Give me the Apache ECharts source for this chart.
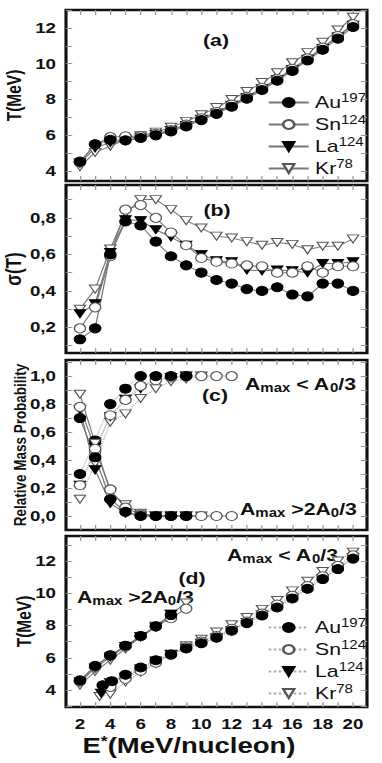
<!DOCTYPE html>
<html>
<head>
<meta charset="utf-8">
<script src="https://cdn.jsdelivr.net/npm/echarts@6/dist/echarts.min.js"></script>
<style>
  html, body { margin: 0; padding: 0; background: #fff; overflow: hidden; }
  /* the reference figure is stretched horizontally, so the chart is drawn narrow and scaled */
  #chart { width: 305.6px; height: 763px; transform: scaleX(1.25); transform-origin: 0 0; }
</style>
</head>
<body>
<div id="chart"></div>
<script>
// ---- data ----
const E = [2, 3, 4, 5, 6, 7, 8, 9, 10, 11, 12, 13, 14, 15, 16, 17, 18, 19, 20];

// (a) temperature vs excitation energy
const auT = [4.53, 5.5, 5.75, 5.72, 5.85, 6.0, 6.22, 6.5, 6.85, 7.2, 7.6, 8.05, 8.53, 9.05, 9.6, 10.18, 10.78, 11.4, 12.05];
const snT = [4.5, 5.5, 5.9, 5.95, 5.95, 6.08, 6.3, 6.6, 6.95, 7.3, 7.72, 8.15, 8.65, 9.15, 9.72, 10.3, 10.9, 11.55, 12.2];
const laT = [4.45, 5.3, 5.6, 5.7, 5.85, 6.05, 6.27, 6.55, 6.9, 7.25, 7.68, 8.1, 8.6, 9.1, 9.68, 10.25, 10.85, 11.5, 12.15];
const krT = [4.25, 5.05, 5.4, 5.75, 5.98, 6.18, 6.45, 6.78, 7.15, 7.55, 8.0, 8.45, 8.95, 9.5, 10.05, 10.62, 11.2, 11.88, 12.6];

// (b) width of the temperature distribution
const auSig = [0.135, 0.195, 0.60, 0.78, 0.758, 0.67, 0.59, 0.54, 0.50, 0.46, 0.44, 0.41, 0.40, 0.42, 0.38, 0.37, 0.44, 0.44, 0.40];
const snSig = [0.195, 0.31, 0.59, 0.845, 0.87, 0.80, 0.72, 0.65, 0.58, 0.56, 0.55, 0.54, 0.535, 0.50, 0.50, 0.535, 0.50, 0.535, 0.535];
const laSig = [0.275, 0.33, 0.61, 0.79, 0.785, 0.735, 0.695, 0.65, 0.60, 0.565, 0.56, 0.515, 0.51, 0.515, 0.51, 0.50, 0.55, 0.55, 0.56];
const krSig = [0.30, 0.41, 0.63, 0.825, 0.90, 0.90, 0.845, 0.785, 0.745, 0.70, 0.69, 0.67, 0.65, 0.665, 0.655, 0.625, 0.645, 0.645, 0.685];

// (c) relative mass probability, Amax < A0/3 (up) and Amax > 2A0/3 (lo)
const auUp = [0.30, 0.54, 0.80, 0.91, 1, 1, 1, 1];
const auLo = [0.70, 0.42, 0.12, 0.03, 0, 0, 0, 0];
const snUp = [0.22, 0.46, 0.72, 0.83, 0.93, 0.97, 0.99, 1, 1, 1, 1];
const snLo = [0.78, 0.48, 0.19, 0.06, 0.01, 0, 0, 0, 0, 0, 0];
const laUp = [0.22, 0.49, 0.71, 0.835, 0.91, 0.98, 0.99, 1];
const laLo = [0.76, 0.33, 0.09, 0.02, 0, 0, 0, 0];
const krUp = [0.12, 0.38, 0.67, 0.73, 0.84, 0.91, 0.96, 0.98, 1];
const krLo = [0.87, 0.52, 0.17, 0.08, 0.02, 0, 0, 0, 0];

// (d) temperature for the two event classes
const auDlE = [2, 3, 4, 5, 6, 7, 8];
const auDl = [4.6, 5.5, 6.15, 6.75, 7.35, 7.95, 8.65];
const snDlE = [2, 3, 4, 5, 6, 7, 8, 9];
const snDl = [4.55, 5.45, 6.15, 6.7, 7.35, 7.95, 8.45, 9.05];
const laDlE = [2, 3, 4, 5, 6, 7, 8];
const laDl = [4.5, 5.35, 6.05, 6.7, 7.3, 7.9, 8.7];
const krDlE = [2, 3, 4, 5, 6, 7, 8, 9];
const krDl = [4.3, 5.15, 5.85, 6.55, 7.3, 7.95, 8.7, 9.4];

const auDrE = [3.5, 4.1, 5, 6, 7, 8, 9, 10, 11, 12, 13, 14, 15, 16, 17, 18, 19, 20];
const auDr = [4.3, 4.55, 4.95, 5.4, 5.85, 6.2, 6.58, 6.9, 7.25, 7.68, 8.15, 8.62, 9.12, 9.68, 10.28, 10.88, 11.5, 12.15];
const snDrE = [4, 5, 6, 7, 8, 9, 10, 11, 12, 13, 14, 15, 16, 17, 18, 19, 20];
const snDr = [4.2, 4.7, 5.2, 5.7, 6.2, 6.65, 7.0, 7.35, 7.8, 8.25, 8.75, 9.3, 9.85, 10.45, 11.05, 11.7, 12.35];
const laDrE = [3.4, 4, 5, 6, 7, 8, 9, 10, 11, 12, 13, 14, 15, 16, 17, 18, 19, 20];
const laDr = [3.8, 4.45, 4.8, 5.3, 5.8, 6.22, 6.6, 6.9, 7.25, 7.7, 8.18, 8.65, 9.15, 9.7, 10.3, 10.92, 11.55, 12.2];
const krDrE = [3.3, 4, 5, 6, 7, 8, 9, 10, 11, 12, 13, 14, 15, 16, 17, 18, 19, 20];
const krDr = [3.6, 3.75, 4.5, 5.1, 5.65, 6.2, 6.75, 7.15, 7.6, 8.05, 8.5, 9.0, 9.55, 10.15, 10.75, 11.35, 12.0, 12.55];

// ticks and labels
const eTicks = [2, 3, 4, 5, 6, 7, 8, 9, 10, 11, 12, 13, 14, 15, 16, 17, 18, 19, 20];
const eLabels = [2, 4, 6, 8, 10, 12, 14, 16, 18, 20];
const tTicksA = [4, 5, 6, 7, 8, 9, 10, 11, 12, 13];
const tTicksD = [3, 4, 5, 6, 7, 8, 9, 10, 11, 12, 13];
const tLabels = [4, 6, 8, 10, 12];
const sigTicks = [0.1, 0.2, 0.3, 0.4, 0.5, 0.6, 0.7, 0.8, 0.9];
const sigLabels = [0.2, 0.4, 0.6, 0.8];
const probTicks = [0, 0.1, 0.2, 0.3, 0.4, 0.5, 0.6, 0.7, 0.8, 0.9, 1.0, 1.1];
const probLabels = [0, 0.2, 0.4, 0.6, 0.8, 1.0];

const isotopes = { Au197: ['Au', '197'], Sn124: ['Sn', '124'], La124: ['La', '124'], Kr78: ['Kr', '78'] };

// ---- layout (chart is drawn at 1/SX width) ----
const SX = 1.25;
const FONT = 'Liberation Sans, Arial, sans-serif';
const gridLeft = 66 / SX, gridW = (367 - 66) / SX;
const panels = [[10, 181], [185, 353], [360, 530], [536, 707]];

const TRI = 'path://M0,0L10,0L5,9Z';
const marks = {
  Au: { symbol: 'circle', size: 9, fill: '#000', stroke: '#000' },
  Sn: { symbol: 'circle', size: 9, fill: '#fff', stroke: '#555' },
  La: { symbol: TRI, size: [9, 8], fill: '#000', stroke: '#000' },
  Kr: { symbol: TRI, size: [9, 8], fill: '#fff', stroke: '#555' }
};

const pairs = (xs, ys) => ys.map((v, i) => [xs[i], v]);

function line(name, key, panel, data, dotted) {
  const m = marks[key];
  return {
    name, type: 'line', xAxisIndex: panel * 2, yAxisIndex: panel * 2, data,
    symbol: m.symbol, symbolSize: m.size,
    itemStyle: { color: m.fill, borderColor: m.stroke, borderWidth: 1 },
    lineStyle: { color: dotted ? '#aaa' : '#777', width: 1, type: dotted ? 'dotted' : 'solid' },
    emphasis: { disabled: true }
  };
}

const comma = v => v.toFixed(1).replace('.', ',');
const tickStyle = { inside: true, length: 5, lineStyle: { color: '#999', width: 1 } };
const labelStyle = { fontSize: 15, fontWeight: 'bold', color: '#111', fontFamily: FONT };
const noLine = { show: false, onZero: false };

const xAxis = [], yAxis = [];
panels.forEach((p, i) => {
  const base = { type: 'value', gridIndex: i, min: 1.08, max: 20.92, splitLine: { show: false }, axisLine: noLine,
    axisTick: { ...tickStyle, customValues: eTicks } };
  xAxis.push({ ...base, position: 'bottom',
    axisLabel: i === 3 ? { ...labelStyle, lineHeight: 15, customValues: eLabels, margin: 10 } : { show: false },
    name: i === 3 ? '{b|E}{s|*}{b|(MeV/nucleon)}' : '', nameLocation: 'middle', nameGap: 27, nameMoveOverlap: false,
    nameTextStyle: { padding: [0, 44, 0, 0], rich: {
      b: { fontSize: 22, lineHeight: 22, fontWeight: 'bold', color: '#111', fontFamily: FONT },
      s: { fontSize: 14, lineHeight: 14, fontWeight: 'bold', padding: [0, 0, 8, 0], color: '#111', fontFamily: FONT } } } });
  xAxis.push({ ...base, position: 'top', axisLabel: { show: false } });
});

function addY(i, min, max, ticks, labels, fmt, name, nameSize, nameGap) {
  const base = { type: 'value', gridIndex: i, min, max, splitLine: { show: false }, axisLine: noLine,
    axisTick: { ...tickStyle, customValues: ticks } };
  yAxis.push({ ...base, position: 'left', name, nameLocation: 'middle', nameGap, nameMoveOverlap: false,
    nameTextStyle: { fontSize: nameSize, fontWeight: 'bold', color: '#111', fontFamily: FONT },
    axisLabel: { ...labelStyle, customValues: labels, formatter: fmt, margin: 8 } });
  yAxis.push({ ...base, position: 'right', axisLabel: { show: false } });
}
addY(0, 3.45, 13.0, tTicksA, tLabels, v => String(v), 'T(MeV)', 15.5, 33);
addY(1, 0.06, 0.98, sigTicks, sigLabels, comma, 'σ(T)', 17, 33);
addY(2, -0.1, 1.115, probTicks, probLabels, comma, 'Relative Mass Probability', 13.5, 30);
addY(3, 2.95, 13.55, tTicksD, tLabels, v => String(v), 'T(MeV)', 15.5, 25);

const series = [
  line('Kr78', 'Kr', 0, pairs(E, krT)),
  line('La124', 'La', 0, pairs(E, laT)),
  line('Sn124', 'Sn', 0, pairs(E, snT)),
  line('Au197', 'Au', 0, pairs(E, auT)),

  line('Kr78 b', 'Kr', 1, pairs(E, krSig)),
  line('La124 b', 'La', 1, pairs(E, laSig)),
  line('Sn124 b', 'Sn', 1, pairs(E, snSig)),
  line('Au197 b', 'Au', 1, pairs(E, auSig)),

  line('Kr78 up', 'Kr', 2, pairs(E, krUp), true),
  line('La124 up', 'La', 2, pairs(E, laUp), true),
  line('Sn124 up', 'Sn', 2, pairs(E, snUp), true),
  line('Au197 up', 'Au', 2, pairs(E, auUp), true),
  line('Kr78 lo', 'Kr', 2, pairs(E, krLo)),
  line('La124 lo', 'La', 2, pairs(E, laLo)),
  line('Sn124 lo', 'Sn', 2, pairs(E, snLo)),
  line('Au197 lo', 'Au', 2, pairs(E, auLo)),

  line('Kr78 dl', 'Kr', 3, pairs(krDlE, krDl)),
  line('La124 dl', 'La', 3, pairs(laDlE, laDl)),
  line('Sn124 dl', 'Sn', 3, pairs(snDlE, snDl)),
  line('Au197 dl', 'Au', 3, pairs(auDlE, auDl)),
  line('Kr78 dr', 'Kr', 3, pairs(krDrE, krDr), true),
  line('La124 dr', 'La', 3, pairs(laDrE, laDr), true),
  line('Sn124 dr', 'Sn', 3, pairs(snDrE, snDr), true),
  line('Au197 dr', 'Au', 3, pairs(auDrE, auDr), true)
];

const legendRich = {
  el: { fontSize: 17, color: '#111', fontFamily: FONT },
  m: { fontSize: 12, padding: [0, 0, 9, 0], color: '#111', fontFamily: FONT }
};
function legend(top, suffix) {
  return {
    orient: 'vertical', left: 209, top, itemWidth: 32, itemHeight: 11, itemGap: 3,
    selectedMode: false, data: Object.keys(isotopes).map(k => k + suffix),
    formatter: n => { const [el, m] = isotopes[n.split(' ')[0]]; return '{el|' + el + '}{m|' + m + '}'; },
    textStyle: { rich: legendRich }
  };
}

const annRich = {
  b: { fontSize: 17, fontWeight: 'bold', fill: '#111', fontFamily: FONT },
  s: { fontSize: 12, fontWeight: 'bold', padding: [9, 0, 0, 0], fill: '#111', fontFamily: FONT }
};
const lowA = '{b|A}{s|max}{b| < A}{s|0}{b|/3}';
const highA = '{b|A}{s|max}{b| >2A}{s|0}{b|/3}';
function note(text, xPx, yMid) {
  return { type: 'text', x: xPx / SX, y: yMid, silent: true,
    style: { text, rich: annRich, align: 'left', verticalAlign: 'middle', fill: '#111' } };
}
function tag(text, xPx, y) {
  return { type: 'text', x: xPx / SX, y, silent: true,
    style: { text, font: 'bold 17px ' + FONT, align: 'center', verticalAlign: 'middle', fill: '#111' } };
}

const chart = echarts.init(document.getElementById('chart'), null, { renderer: 'svg' });
chart.setOption({
  animation: false,
  textStyle: { fontFamily: FONT },
  grid: panels.map(p => ({ left: gridLeft, width: gridW, top: p[0], height: p[1] - p[0],
    outerBoundsMode: 'none', containLabel: false,
    show: true, borderColor: '#111', borderWidth: 2.5, backgroundColor: 'transparent' })),
  xAxis, yAxis, series,
  legend: [legend(87, ''), legend(612, ' dr')],
  graphic: [
    tag('(a)', 216, 40), tag('(b)', 217, 210), tag('(c)', 215, 395), tag('(d)', 192, 578),
    note(lowA, 245, 384), note(highA, 240, 509),
    note(lowA, 227, 555), note(highA, 77, 597)
  ]
});
</script>
</body>
</html>
